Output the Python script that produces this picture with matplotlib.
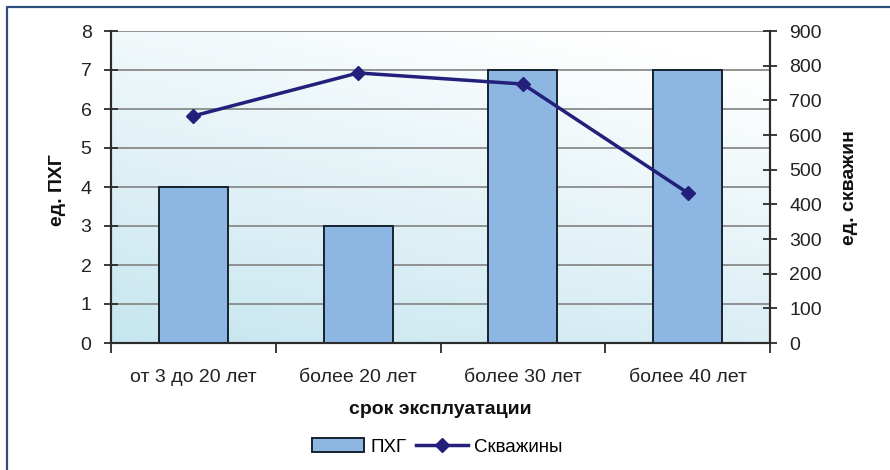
import numpy as np
import matplotlib
matplotlib.use('Agg')
import matplotlib.pyplot as plt
from matplotlib.lines import Line2D
import matplotlib.patches as mpatches
from matplotlib.colors import LinearSegmentedColormap

plt.rcParams['font.family'] = ['Liberation Sans', 'DejaVu Sans']

# ── данные ────────────────────────────────────────────────────────────────────
categories = ['от 3 до 20 лет', 'более 20 лет', 'более 30 лет', 'более 40 лет']
phg_counts = [4, 3, 7, 7]              # ед. ПХГ (левая ось)
wells      = [655, 779, 747, 433]      # ед. скважин (правая ось)
left_ticks  = list(range(0, 9))
right_ticks = list(range(0, 1000, 100))

BAR_COLOR  = '#8DB6E3'
LINE_COLOR = '#22207A'
GRID_COLOR = '#8A8A8A'
AX_COLOR   = '#2B2B2B'
TXT_COLOR  = '#222222'
FS = 14
# ─────────────────────────────────────────────────────────────────────────────

fig = plt.figure(figsize=(8.9, 4.7), dpi=100)
ax = fig.add_axes([111/890, 1 - 343/470, 659/890, 312/470])
ax2 = ax.twinx()

# градиентный фон области построения
gx, gy = np.meshgrid(np.linspace(0, 1, 200), np.linspace(0, 1, 200))
grad = np.clip(0.75 * gy + 0.35 * gx, 0, 1)
cmap = LinearSegmentedColormap.from_list('bg', ['#C6E6EF', '#E3F2F7', '#FFFFFF'])
ax.imshow(grad, cmap=cmap, origin='lower', extent=[0, 1, 0, 1],
          transform=ax.transAxes, aspect='auto', zorder=0)

x = np.arange(len(categories))
ax.bar(x, phg_counts, width=0.42, color=BAR_COLOR, edgecolor='#16222F',
       linewidth=1.4, zorder=3, label='ПХГ')
ax.set_xlim(-0.5, len(categories) - 0.5)
ax.set_ylim(0, 8)
ax.set_yticks(left_ticks)
for t in left_ticks:
    ax.axhline(t, color=GRID_COLOR, lw=1.3, zorder=1)

ax2.plot(x, wells, color=LINE_COLOR, lw=2.5, marker='D', ms=7,
         zorder=5, label='Скважины')
ax2.set_ylim(0, 900)
ax2.set_yticks(right_ticks)

# оси и деления
ax.set_xticks(x)
ax.set_xticklabels(categories, fontsize=FS, color=TXT_COLOR)
ax.set_xticks(np.arange(len(categories) + 1) - 0.5, minor=True)
ax.tick_params(axis='x', which='major', length=0, pad=19)
ax.tick_params(axis='x', which='minor', length=7, width=1.3, color=AX_COLOR, direction='out')
ax.tick_params(axis='y', length=10, width=1.3, color=AX_COLOR, direction='inout',
               labelsize=FS, labelcolor=TXT_COLOR, pad=9)
ax2.tick_params(axis='y', length=10, width=1.3, color=AX_COLOR, direction='inout',
                labelsize=FS, labelcolor=TXT_COLOR, pad=9)

for a in (ax, ax2):
    a.spines['top'].set_visible(False)
    for s in ('left', 'right', 'bottom'):
        a.spines[s].set_color(AX_COLOR)
        a.spines[s].set_linewidth(1.5)
ax2.patch.set_visible(False)

# подписи осей
fig.text(57/890, 1 - 190/470, 'ед. ПХГ', fontsize=FS, fontweight='bold',
         rotation=90, ha='center', va='center', color='#111111')
fig.text(850/890, 1 - 188/470, 'ед. скважин', fontsize=FS, fontweight='bold',
         rotation=90, ha='center', va='center', color='#111111')
fig.text(440/890, 1 - 410/470, 'срок эксплуатации', fontsize=FS, fontweight='bold',
         ha='center', va='center', color='#111111')

# легенда
handles = [mpatches.Patch(facecolor=BAR_COLOR, edgecolor='#16222F', lw=1.4, label='ПХГ'),
           Line2D([0], [0], color=LINE_COLOR, lw=2.5, marker='D', ms=7, label='Скважины')]
fig.legend(handles=handles, loc='center', bbox_to_anchor=(437/890, 1 - 447/470), ncol=2,
           frameon=False, fontsize=13.5, handlelength=2.8, handletextpad=0.3,
           columnspacing=0.5)

# рамка
fig.add_artist(Line2D([7/890, 7/890, 1], [0, 1 - 7/470, 1 - 7/470],
                      color='#2E4E7E', lw=1.6, transform=fig.transFigure))

fig.savefig('out.png', dpi=100)
